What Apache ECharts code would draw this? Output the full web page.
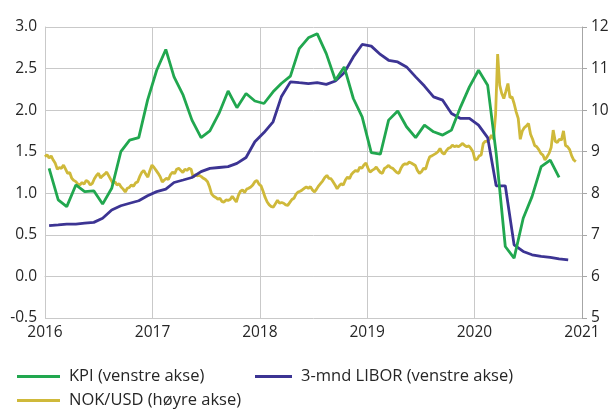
<!DOCTYPE html>
<html>
<head>
<meta charset="utf-8">
<script src="https://cdn.jsdelivr.net/npm/echarts@6/dist/echarts.min.js"></script>
<style>
  html, body { margin: 0; padding: 0; background: #fff; }
  #chart { width: 614px; height: 410px; }
</style>
</head>
<body>
<div id="chart"></div>
<script>
// KPI, månedlig (venstre akse), jan 2016 - okt 2020
var kpiValues = [
  1.30, 0.92, 0.84, 1.10, 1.02, 1.03, 0.87, 1.06, 1.50, 1.64, 1.67, 2.12,
  2.48, 2.73, 2.40, 2.18, 1.88, 1.67, 1.75, 1.96, 2.23, 2.03, 2.20, 2.11,
  2.08, 2.22, 2.32, 2.41, 2.74, 2.87, 2.92, 2.68, 2.36, 2.52, 2.14, 1.92,
  1.49, 1.47, 1.88, 1.99, 1.80, 1.67, 1.82, 1.74, 1.70, 1.76, 2.04, 2.28,
  2.48, 2.30, 1.48, 0.36, 0.22, 0.70, 0.96, 1.32, 1.40, 1.19
];
// 3-mnd LIBOR, månedlig (venstre akse), jan 2016 - nov 2020
var liborValues = [
  0.61, 0.62, 0.63, 0.63, 0.64, 0.65, 0.70, 0.80, 0.85, 0.88, 0.91, 0.97,
  1.02, 1.05, 1.13, 1.16, 1.19, 1.26, 1.30, 1.31, 1.32, 1.36, 1.43, 1.62,
  1.73, 1.86, 2.16, 2.34, 2.33, 2.32, 2.33, 2.31, 2.35, 2.45, 2.64, 2.79,
  2.77, 2.67, 2.60, 2.58, 2.52, 2.40, 2.29, 2.16, 2.12, 1.96, 1.90, 1.90,
  1.82, 1.67, 1.09, 1.09, 0.38, 0.30, 0.26, 0.24, 0.23, 0.21, 0.20
];
// NOK/USD, ukentlig fra 1. jan 2016 (høyre akse)
var nokValues = [
  8.88, 8.93, 8.85, 8.90, 8.80, 8.72, 8.58, 8.62, 8.60, 8.68, 8.58, 8.48, 8.50,
  8.36, 8.31, 8.28, 8.22, 8.20, 8.26, 8.22, 8.31, 8.28, 8.20, 8.24, 8.35, 8.43,
  8.48, 8.37, 8.42, 8.46, 8.51, 8.42, 8.33, 8.24, 8.28, 8.20, 8.23, 8.15, 8.10,
  8.03, 8.12, 8.14, 8.20, 8.17, 8.25, 8.27, 8.40, 8.50, 8.55, 8.46, 8.39, 8.55,
  8.68, 8.62, 8.55, 8.48, 8.40, 8.27, 8.32, 8.36, 8.33, 8.45, 8.51, 8.47, 8.58,
  8.60, 8.55, 8.50, 8.58, 8.55, 8.60, 8.58, 8.39, 8.45, 8.42, 8.43, 8.40, 8.36,
  8.33, 8.28, 8.15, 7.98, 7.93, 7.90, 7.86, 7.88, 7.80, 7.79, 7.84, 7.83, 7.85,
  7.93, 7.86, 7.79, 7.95, 8.05, 8.08, 8.02, 8.10, 8.12, 8.15, 8.20, 8.28, 8.31,
  8.22, 8.18, 8.05, 7.90, 7.79, 7.72, 7.68, 7.67, 7.75, 7.83, 7.76, 7.78, 7.76,
  7.72, 7.71, 7.78, 7.85, 7.88, 7.98, 8.03, 8.05, 8.08, 8.12, 8.15, 8.12, 8.16,
  8.08, 8.03, 8.10, 8.18, 8.24, 8.30, 8.38, 8.43, 8.36, 8.35, 8.28, 8.20, 8.11,
  8.18, 8.23, 8.20, 8.32, 8.39, 8.35, 8.46, 8.51, 8.55, 8.52, 8.63, 8.60, 8.68,
  8.73, 8.60, 8.51, 8.55, 8.58, 8.63, 8.56, 8.50, 8.48, 8.60, 8.63, 8.67, 8.62,
  8.60, 8.55, 8.50, 8.48, 8.60, 8.68, 8.71, 8.70, 8.75, 8.73, 8.70, 8.67, 8.55,
  8.48, 8.52, 8.60, 8.58, 8.75, 8.88, 8.90, 8.93, 8.96, 9.00, 9.08, 8.98, 8.94,
  9.02, 9.08, 9.10, 9.16, 9.12, 9.14, 9.12, 9.16, 9.20, 9.15, 9.12, 9.14, 9.08,
  9.00, 8.80, 8.82, 8.90, 8.92, 9.20, 9.25, 9.25, 9.30, 9.40, 9.30, 9.90, 11.35,
  10.60, 10.40, 10.28, 10.45, 10.64, 10.30, 10.32, 10.16, 9.96, 9.80, 9.30, 9.50,
  9.58, 9.62, 9.68, 9.42, 9.30, 9.15, 9.12, 9.05, 8.96, 8.92, 8.80, 8.88, 8.96,
  9.10, 9.52, 9.25, 9.22, 9.30, 9.28, 9.50, 9.15, 9.12, 9.05, 8.90, 8.80, 8.76
];
var yearLabels = ['2016', '2017', '2018', '2019', '2020', '2021'];
var seriesNames = ['KPI (venstre akse)', '3-mnd LIBOR (venstre akse)', 'NOK/USD (høyre akse)'];
var seriesColors = ['#21a74f', '#3c3493', '#cfb93a'];

function monthly (values, startYear) {
  var out = [];
  for (var i = 0; i < values.length; i++) {
    var d = Date.UTC(startYear + Math.floor(i / 12), i % 12, 15);
    out.push([d, values[i]]);
  }
  return out;
}
function weekly (values, start) {
  var out = [];
  for (var i = 0; i < values.length; i++) {
    out.push([start + i * 7 * 86400000, values[i]]);
  }
  return out;
}

var font = 'Open Sans';
var labelColor = '#262626';
var gridColor = '#c9c9c9';
var legendText = { fontSize: 16.5, color: labelColor, fontFamily: font, padding: [0, 0, 0, 4] };

var chart = echarts.init(document.getElementById('chart'));
chart.setOption({
  animation: false,
  textStyle: { fontFamily: font },
  grid: { left: 45, right: 32, top: 27, bottom: 92 },
  legend: [
    {
      data: [seriesNames[0]], left: 12, top: 363,
      icon: 'rect', itemWidth: 43, itemHeight: 3, textStyle: legendText
    },
    {
      data: [seriesNames[1]], left: 250, top: 363,
      icon: 'rect', itemWidth: 37, itemHeight: 3, textStyle: legendText
    },
    {
      data: [seriesNames[2]], left: 12, top: 387,
      icon: 'rect', itemWidth: 43, itemHeight: 3, textStyle: legendText
    }
  ],
  xAxis: {
    type: 'time',
    min: Date.UTC(2016, 0, 1),
    max: Date.UTC(2021, 0, 1),
    splitNumber: 5,
    axisLine: { show: true, lineStyle: { color: gridColor } },
    axisTick: { show: false },
    splitLine: { show: true, lineStyle: { color: gridColor } },
    axisLabel: {
      fontSize: 15.5, color: labelColor, margin: 7, fontFamily: font,
      showMinLabel: true, showMaxLabel: true,
      formatter: function (v) {
        var y = new Date(v + 3 * 86400000).getUTCFullYear();
        return yearLabels.indexOf(String(y)) >= 0 ? String(y) : '';
      }
    }
  },
  yAxis: [
    {
      type: 'value', min: -0.5, max: 3, interval: 0.5,
      axisLine: { show: true, lineStyle: { color: gridColor } },
      axisTick: { show: false },
      splitLine: { lineStyle: { color: gridColor } },
      axisLabel: {
        fontSize: 15.5, color: labelColor, margin: 8, fontFamily: font,
        formatter: function (v) { return v.toFixed(1); }
      }
    },
    {
      type: 'value', min: 5, max: 12, interval: 1, position: 'right',
      axisLine: { show: true, lineStyle: { color: '#a6a6a6' } },
      axisTick: { show: true, inside: false, length: 5, lineStyle: { color: '#a6a6a6' } },
      splitLine: { show: false },
      axisLabel: { fontSize: 15.5, color: labelColor, margin: 9, fontFamily: font }
    }
  ],
  series: [
    {
      name: seriesNames[2], type: 'line', yAxisIndex: 1,
      data: weekly(nokValues, Date.UTC(2016, 0, 1)),
      showSymbol: false, color: seriesColors[2],
      lineStyle: { width: 2.8, color: seriesColors[2] }, z: 2
    },
    {
      name: seriesNames[1], type: 'line', yAxisIndex: 0,
      data: monthly(liborValues, 2016),
      showSymbol: false, color: seriesColors[1],
      lineStyle: { width: 2.8, color: seriesColors[1] }, z: 3
    },
    {
      name: seriesNames[0], type: 'line', yAxisIndex: 0,
      data: monthly(kpiValues, 2016),
      showSymbol: false, color: seriesColors[0],
      lineStyle: { width: 2.8, color: seriesColors[0] }, z: 4
    }
  ]
});
</script>
</body>
</html>
